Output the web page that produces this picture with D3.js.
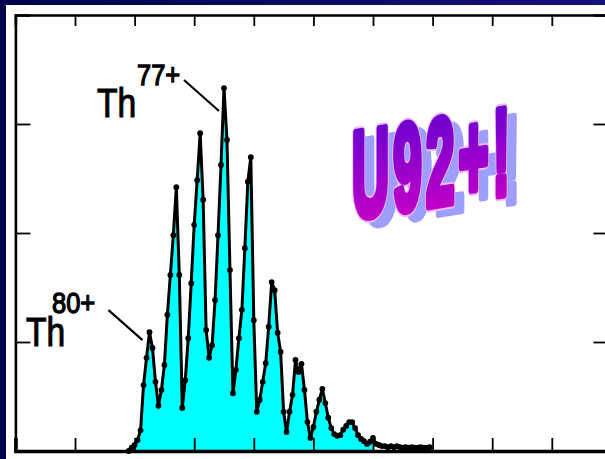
<!DOCTYPE html>
<html>
<head>
<meta charset="utf-8">
<script src="https://cdn.jsdelivr.net/npm/d3@7"></script>
<style>
  html, body { margin: 0; padding: 0; background: #08085e; }
  svg { display: block; }
</style>
</head>
<body>
<svg id="chart" width="605" height="459"></svg>
<script>
// Charge-state spectrum of thorium ions (channel vs. counts)
const channels = [
  19.0, 19.5, 20.0, 20.5, 21.0, 21.5, 22.0, 22.5, 23.0, 23.5,
  24.0, 24.5, 25.0, 25.5, 26.0, 26.5, 27.0, 27.5, 28.0, 28.5,
  29.0, 29.5, 30.0, 30.5, 31.0, 31.5, 32.0, 32.5, 33.0, 33.5,
  34.0, 34.5, 35.0, 35.5, 36.0, 36.5, 37.0, 37.5, 38.0, 38.5,
  39.0, 39.5, 40.0, 40.5, 41.0, 41.5, 42.0, 42.5, 43.0, 43.5,
  44.0, 44.5, 45.0, 45.5, 46.0, 46.5, 47.0, 47.5, 48.0, 48.5,
  49.0, 49.5, 50.0, 50.5, 51.0, 51.5, 52.0, 52.5, 53.0, 53.5,
  54.0, 54.5, 55.0, 55.5, 56.0, 56.5, 57.0, 57.5, 58.0, 58.5,
  59.0, 59.5, 60.0, 60.5, 61.0, 61.5, 62.0, 62.5, 63.0, 63.5,
  64.0, 64.5, 65.0, 65.5, 66.0, 66.5, 67.0, 67.5, 68.0, 68.5,
  69.0, 69.5
];
const counts = [
     0,   30,   55,  100,  190,  605,  855, 1090,  945,  635,
   415,  560,  790, 1250, 1615, 1980, 2420, 1615,  395,  650,
  1035, 1540, 2075, 2485, 2915, 2305, 1110,  855,  970, 1385,
  1980, 2625, 3330, 2855, 1660,  530,  745, 1035, 1295, 1860,
  2470, 2695, 1200,  360,  470,  635,  805, 1140, 1550, 1475,
  1085,  910,  360,  175,  360,  515,  835,  725,  800,  560,
   265,  120,  220,  360,  470,  570,  440,  305,  210,  155,
   140,  145,  195,  230,  265,  265,  210,  145,  110,   90,
    65,   85,  120,   65,   55,   45,   45,   35,   45,   35,
    45,   35,   30,   35,   30,   35,   30,   30,   35,   30,
    30,   35
];
const xTickValues = [10, 20, 30, 40, 50, 60, 70, 80, 90];
const yTickValues = [1000, 2000, 3000];
const filledUpTo = 60;          // shaded region ends at this channel
const peakLabels = [
  { ion: "Th", charge: "80+", channel: 22.5 },
  { ion: "Th", charge: "77+", channel: 35.0 }
];
const banner = "U92+!";

const svg = d3.select("#chart");
const W = 605, H = 459;

// page background and white panel
const defs = svg.append("defs");
const bg = defs.append("linearGradient").attr("id", "bg")
  .attr("x1", 0).attr("y1", 0).attr("x2", 1).attr("y2", 0);
bg.append("stop").attr("offset", 0).attr("stop-color", "#03034c");
bg.append("stop").attr("offset", 1).attr("stop-color", "#12127a");
svg.append("rect").attr("width", W).attr("height", H).attr("fill", "url(#bg)");
svg.append("rect").attr("x", 6).attr("y", 5).attr("width", W - 6).attr("height", H - 5)
  .attr("fill", "#ffffff");

// scales
const x = d3.scaleLinear().domain([0, 100]).range([15.4, 611.4]);
const y = d3.scaleLinear().domain([0, 4000]).range([451, 15]);

const data = channels.map((c, i) => ({ c, v: counts[i] }));

// shaded area under the spectrum
const area = d3.area().x(d => x(d.c)).y0(y(0)).y1(d => y(d.v));
svg.append("path")
  .datum(data.filter(d => d.c <= filledUpTo))
  .attr("d", area)
  .attr("fill", "#00ffff");

// axes frame
const axisTop = svg.append("g").attr("transform", `translate(0,${y(4000)})`)
  .call(d3.axisBottom(x).tickValues(xTickValues).tickSize(11).tickFormat(""));
const axisBot = svg.append("g").attr("transform", `translate(0,${y(0)})`)
  .call(d3.axisTop(x).tickValues(xTickValues).tickSize(13).tickFormat(""));
const axisLeft = svg.append("g").attr("transform", `translate(${x(0)},0)`)
  .call(d3.axisRight(y).tickValues(yTickValues).tickSize(15).tickFormat(""));
const axisRight = svg.append("g").attr("transform", `translate(${x(100)},0)`)
  .call(d3.axisLeft(y).tickValues(yTickValues).tickSize(18).tickFormat(""));
[axisTop, axisBot, axisLeft, axisRight].forEach(g => {
  g.selectAll(".domain").attr("stroke", "#000").attr("stroke-width", 2.6);
  g.selectAll(".tick line").attr("stroke", "#000").attr("stroke-width", 1.8);
});
axisBot.select(".domain").attr("stroke-width", 3.6);

// spectrum line with data points
const line = d3.line().x(d => x(d.c)).y(d => y(d.v));
svg.append("path").datum(data)
  .attr("d", line)
  .attr("fill", "none")
  .attr("stroke", "#000")
  .attr("stroke-width", 3)
  .attr("stroke-linejoin", "round");
svg.append("g").selectAll("circle").data(data).join("circle")
  .attr("cx", d => x(d.c)).attr("cy", d => y(d.v)).attr("r", 2.9)
  .attr("fill", "#000");

// charge-state labels with leader lines
const labelLayout = {
  "80+": { ionX: 26, ionY: 346, chX: 52, chY: 313, from: [-41, -22], to: [-7, 8] },
  "77+": { ionX: 97, ionY: 117, chX: 137, chY: 85, from: [-40, -8], to: [-5, 23] }
};
peakLabels.forEach(p => {
  const L = labelLayout[p.charge];
  const d = data.find(e => e.c === p.channel);
  const px = x(d.c), py = y(d.v);
  svg.append("text")
    .attr("transform", `translate(${L.ionX},${L.ionY}) scale(0.82,1)`)
    .attr("font-family", "Liberation Sans, Arial, sans-serif")
    .attr("font-size", 41)
    .attr("fill", "#000")
    .attr("stroke", "#000")
    .attr("stroke-width", 1.1)
    .text(p.ion);
  svg.append("text")
    .attr("transform", `translate(${L.chX},${L.chY}) scale(0.85,1)`)
    .attr("font-family", "Liberation Sans, Arial, sans-serif")
    .attr("font-size", 30)
    .attr("fill", "#000")
    .attr("stroke", "#000")
    .attr("stroke-width", 1.3)
    .text(p.charge);
  svg.append("line")
    .attr("x1", px + L.from[0]).attr("y1", py + L.from[1])
    .attr("x2", px + L.to[0]).attr("y2", py + L.to[1])
    .attr("stroke", "#000").attr("stroke-width", 2.2);
});

// banner word-art
const grad = defs.append("linearGradient").attr("id", "wordart")
  .attr("x1", 0).attr("y1", 0).attr("x2", 0).attr("y2", 1);
grad.append("stop").attr("offset", 0).attr("stop-color", "#5a00d2");
grad.append("stop").attr("offset", 1).attr("stop-color", "#d400c4");

const art = svg.append("g").attr("transform", "translate(352,218) skewY(-9)");
function wordLayer(dx, dy, fill, stroke, sw) {
  art.append("text")
    .attr("transform", `translate(${dx},${dy}) scale(0.42,1)`)
    .attr("font-family", "Liberation Sans, Arial, sans-serif")
    .attr("font-weight", "bold")
    .attr("font-size", 122)
    .attr("letter-spacing", 10)
    .attr("fill", fill)
    .attr("stroke", stroke)
    .attr("stroke-width", sw)
    .attr("stroke-linejoin", "round")
    .attr("vector-effect", "non-scaling-stroke")
    .text(banner);
}
wordLayer(10, 9, "#9e9eff", "#9e9eff", 7);
wordLayer(0, 0, "none", "#ecbcff", 10);
wordLayer(0, 0, "url(#wordart)", "url(#wordart)", 7);
</script>
</body>
</html>
